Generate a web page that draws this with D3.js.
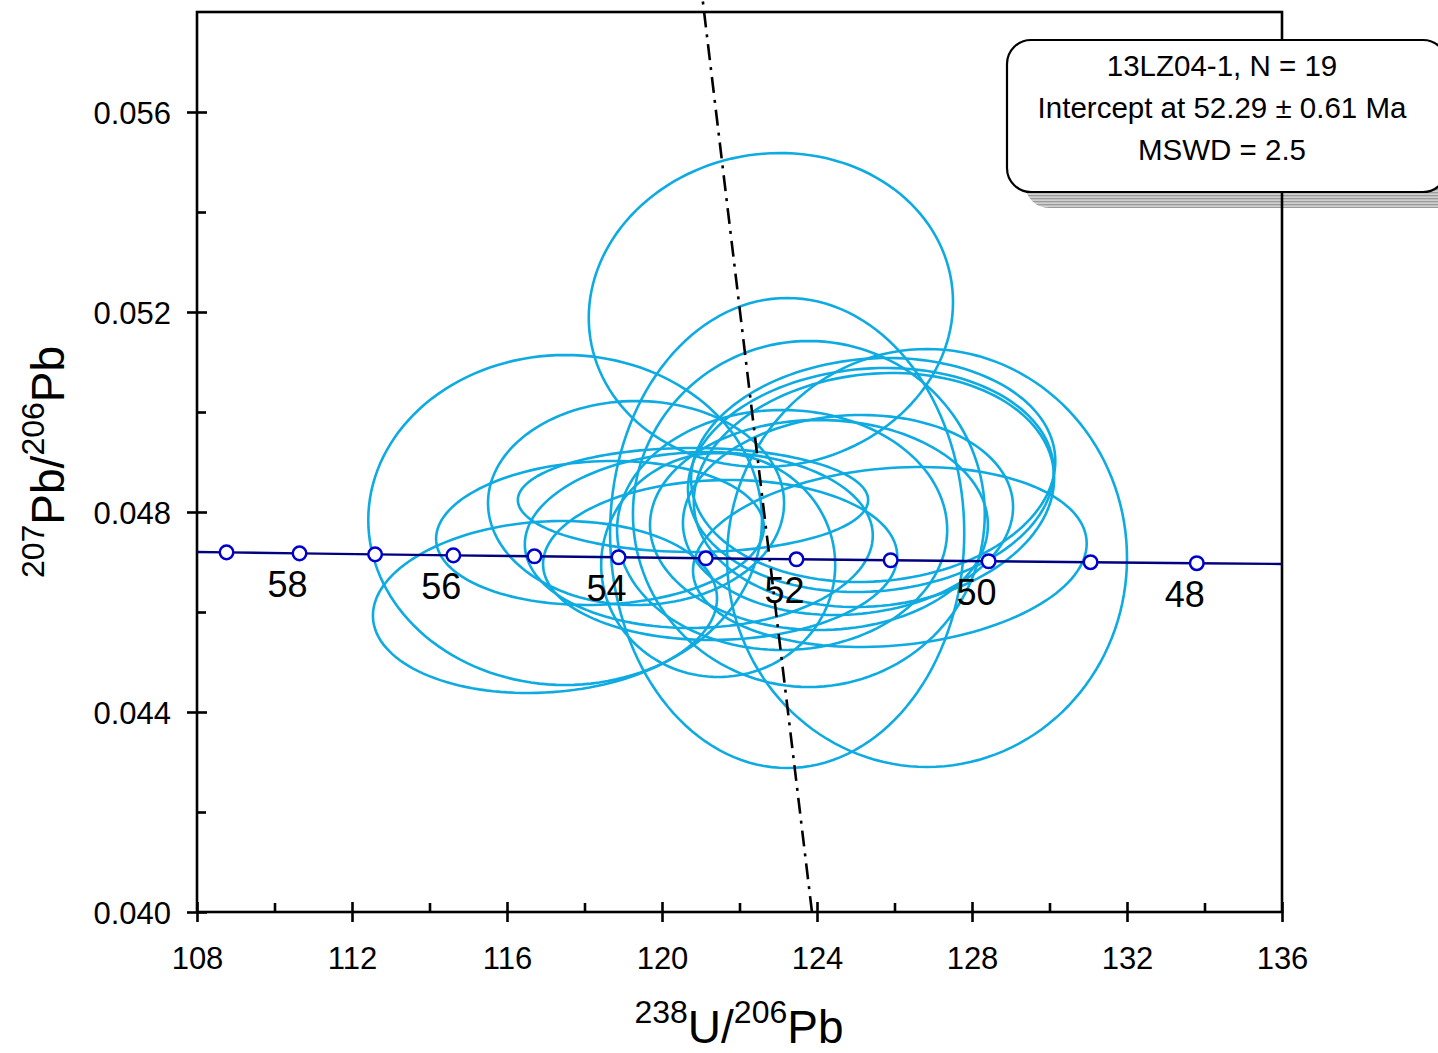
<!DOCTYPE html>
<html lang="en">
<head>
<meta charset="utf-8">
<title>Tera-Wasserburg concordia 13LZ04-1</title>
<script src="https://cdn.jsdelivr.net/npm/d3@7"></script>
<style>
  body { margin: 0; background: #fff; }
  svg text { font-family: "Liberation Sans", Arial, sans-serif; fill: #000; }
  .axis path { display: none; }
  .axis line { stroke: #000; stroke-width: 2.6; }
  .axis text { font-size: 31px; }
</style>
</head>
<body>
<script>
// axis ticks
var xMajor = [108, 112, 116, 120, 124, 128, 132, 136];
var xMinor = [110, 114, 118, 122, 126, 130, 134];
var yMajor = [0.040, 0.044, 0.048, 0.052, 0.056];
var yMinor = [0.042, 0.046, 0.050, 0.054];

// concordia age marks (Ma) and their ratios
var concAge = [59, 58, 57, 56, 55, 54, 53, 52, 51, 50, 49, 48];
var concU = [108.762, 110.646, 112.596, 114.615, 116.708, 118.879, 121.131, 123.470, 125.901, 128.429, 131.060, 133.801];
var concPb = [0.047193, 0.047173, 0.047153, 0.047133, 0.047114, 0.047094, 0.047074, 0.047054, 0.047035, 0.047015, 0.046996, 0.046976];
var concEndU = [108, 136];
var concEndPb = [0.047201, 0.046960];

// spot ellipses: centre, half axes (2s), error correlation
var spotU   = [122.81, 117.50, 116.98, 118.40, 119.33, 120.80, 123.23, 126.84, 125.88, 125.45,
               125.39, 125.47, 124.80, 123.79, 120.95, 121.50, 121.45, 123.10, 124.05];
var spotUe  = [4.70, 5.08, 4.44, 4.23, 3.82, 4.52, 4.57, 5.16, 5.08, 4.70,
               4.72, 4.65, 4.26, 4.54, 4.49, 4.57, 3.02, 4.26, 4.36];
var spotPb  = [0.05204, 0.04784, 0.04610, 0.04758, 0.04818, 0.04824, 0.04758, 0.04708, 0.04710, 0.04884,
               0.04864, 0.04844, 0.04794, 0.04796, 0.04744, 0.04704, 0.04694, 0.04764, 0.04774];
var spotPbe = [0.00314, 0.00330, 0.00172, 0.00144, 0.00204, 0.00104, 0.00470, 0.00418, 0.00180, 0.00224,
               0.00224, 0.00234, 0.00200, 0.00346, 0.00176, 0.00160, 0.00224, 0.00240, 0.00210];
var spotRho = [0.05, 0.00, 0.10, 0.08, 0.00, 0.00, 0.00, 0.00, 0.15, 0.08,
               0.08, 0.10, 0.08, 0.00, 0.05, 0.05, 0.00, 0.00, 0.00];

// regression line: lower intercept and common-Pb ends
var discU  = [123.87, 120.70];
var discPb = [0.040, 0.0605];

var legendLines = ["13LZ04-1, N = 19", "Intercept at 52.29 \u00b1 0.61 Ma", "MSWD = 2.5"];

var w = 1438, h = 1053;
var plotL = 197, plotR = 1282, plotT = 12, plotB = 912;

var svg = d3.select("body").append("svg")
  .attr("width", w)
  .attr("height", h);

// hatched grey for the legend shadow
var pat = svg.append("defs").append("pattern")
  .attr("id", "shade")
  .attr("width", 3).attr("height", 3)
  .attr("patternUnits", "userSpaceOnUse");
pat.append("rect").attr("width", 3).attr("height", 3).attr("fill", "#d0d0d0");
pat.append("rect").attr("width", 3).attr("height", 1.3).attr("fill", "#9a9a9a");

var xScale = d3.scaleLinear().domain([108, 136]).range([plotL, plotR]);
var yScale = d3.scaleLinear().domain([0.040, 0.058]).range([plotB, plotT]);

// ellipses
var line = d3.line().x(function(d) { return d[0]; }).y(function(d) { return d[1]; });
var steps = d3.range(0, 145);
spotU.forEach(function(u, i) {
  var pts = steps.map(function(k) {
    var t = k / 144 * 2 * Math.PI;
    var r = spotRho[i];
    var du = spotUe[i] * Math.cos(t);
    var dp = spotPbe[i] * (r * Math.cos(t) + Math.sqrt(1 - r * r) * Math.sin(t));
    return [xScale(u + du), yScale(spotPb[i] + dp)];
  });
  svg.append("path")
    .attr("d", line(pts) + "Z")
    .attr("fill", "none")
    .attr("stroke", "#0eabe2")
    .attr("stroke-width", 2.6);
});

// legend shadow (under the frame line)
var boxX = 1007, boxY = 40, boxW = 440, boxH = 152;
svg.append("rect")
  .attr("x", boxX + 18).attr("y", boxY + 16)
  .attr("width", boxW).attr("height", boxH)
  .attr("rx", 24)
  .attr("fill", "url(#shade)");

// frame
svg.append("rect")
  .attr("x", plotL).attr("y", plotT)
  .attr("width", plotR - plotL).attr("height", plotB - plotT)
  .attr("fill", "none").attr("stroke", "#000").attr("stroke-width", 2.6);

// regression line
svg.append("line")
  .attr("x1", xScale(discU[0])).attr("y1", yScale(discPb[0]))
  .attr("x2", xScale(discU[1])).attr("y2", yScale(discPb[1]))
  .attr("stroke", "#000").attr("stroke-width", 2.6)
  .attr("stroke-dasharray", "16,7,3,7");

// concordia
var concPts = [[concEndU[0], concEndPb[0]]]
  .concat(concU.map(function(u, i) { return [u, concPb[i]]; }))
  .concat([[concEndU[1], concEndPb[1]]]);
svg.append("path")
  .attr("d", line(concPts.map(function(d) { return [xScale(d[0]), yScale(d[1])]; })))
  .attr("fill", "none")
  .attr("stroke", "#000080")
  .attr("stroke-width", 2.4);

svg.selectAll("circle.age")
  .data(concAge)
  .enter()
  .append("circle")
  .attr("class", "age")
  .attr("cx", function(d, i) { return xScale(concU[i]); })
  .attr("cy", function(d, i) { return yScale(concPb[i]); })
  .attr("r", 6.8)
  .attr("fill", "#fff")
  .attr("stroke", "#0000cc")
  .attr("stroke-width", 2.5);

svg.selectAll("text.age")
  .data(concAge.filter(function(d) { return d % 2 === 0; }))
  .enter()
  .append("text")
  .attr("class", "age")
  .attr("x", function(d) { return xScale(concU[concAge.indexOf(d)]) - 12; })
  .attr("y", function(d) { return yScale(concPb[concAge.indexOf(d)]) + 44; })
  .attr("text-anchor", "middle")
  .attr("font-size", "36px")
  .text(function(d) { return d; });

// axes
var xAxis = svg.append("g")
  .attr("class", "axis")
  .attr("transform", "translate(0," + plotB + ")")
  .call(d3.axisBottom(xScale).tickValues(xMajor).tickSize(10).tickFormat(d3.format("d")));
xAxis.selectAll("line").attr("y1", -10);
xAxis.selectAll("text").attr("y", 57).attr("dy", null);

svg.append("g")
  .attr("class", "axis")
  .attr("transform", "translate(0," + plotB + ")")
  .call(d3.axisTop(xScale).tickValues(xMinor).tickSize(9).tickFormat(""));

var yAxis = svg.append("g")
  .attr("class", "axis")
  .attr("transform", "translate(" + plotL + ",0)")
  .call(d3.axisLeft(yScale).tickValues(yMajor).tickSize(10).tickFormat(d3.format(".3f")));
yAxis.selectAll("line").attr("x1", 10);
yAxis.selectAll("text").attr("x", -26).attr("dy", "0.36em");

svg.append("g")
  .attr("class", "axis")
  .attr("transform", "translate(" + plotL + ",0)")
  .call(d3.axisRight(yScale).tickValues(yMinor).tickSize(9).tickFormat(""));

// axis titles
var xt = svg.append("text")
  .attr("x", 739).attr("y", 1043)
  .attr("text-anchor", "middle")
  .attr("font-size", "46px");
xt.append("tspan").attr("font-size", "32px").attr("dy", -20).text("238");
xt.append("tspan").attr("dy", 20).text("U/");
xt.append("tspan").attr("font-size", "32px").attr("dy", -20).text("206");
xt.append("tspan").attr("dy", 20).text("Pb");

var yt = svg.append("text")
  .attr("transform", "translate(64,462) rotate(-90)")
  .attr("text-anchor", "middle")
  .attr("font-size", "46px");
yt.append("tspan").attr("font-size", "32px").attr("dy", -20).text("207");
yt.append("tspan").attr("dy", 20).text("Pb/");
yt.append("tspan").attr("font-size", "32px").attr("dy", -20).text("206");
yt.append("tspan").attr("dy", 20).text("Pb");

// legend box
svg.append("rect")
  .attr("x", boxX).attr("y", boxY)
  .attr("width", boxW).attr("height", boxH)
  .attr("rx", 24)
  .attr("fill", "#fff")
  .attr("stroke", "#000")
  .attr("stroke-width", 2.2);
svg.selectAll("text.legend")
  .data(legendLines)
  .enter()
  .append("text")
  .attr("class", "legend")
  .attr("x", 1222)
  .attr("y", function(d, i) { return 76 + i * 42; })
  .attr("text-anchor", "middle")
  .attr("font-size", "29.5px")
  .text(function(d) { return d; });
</script>
</body>
</html>
